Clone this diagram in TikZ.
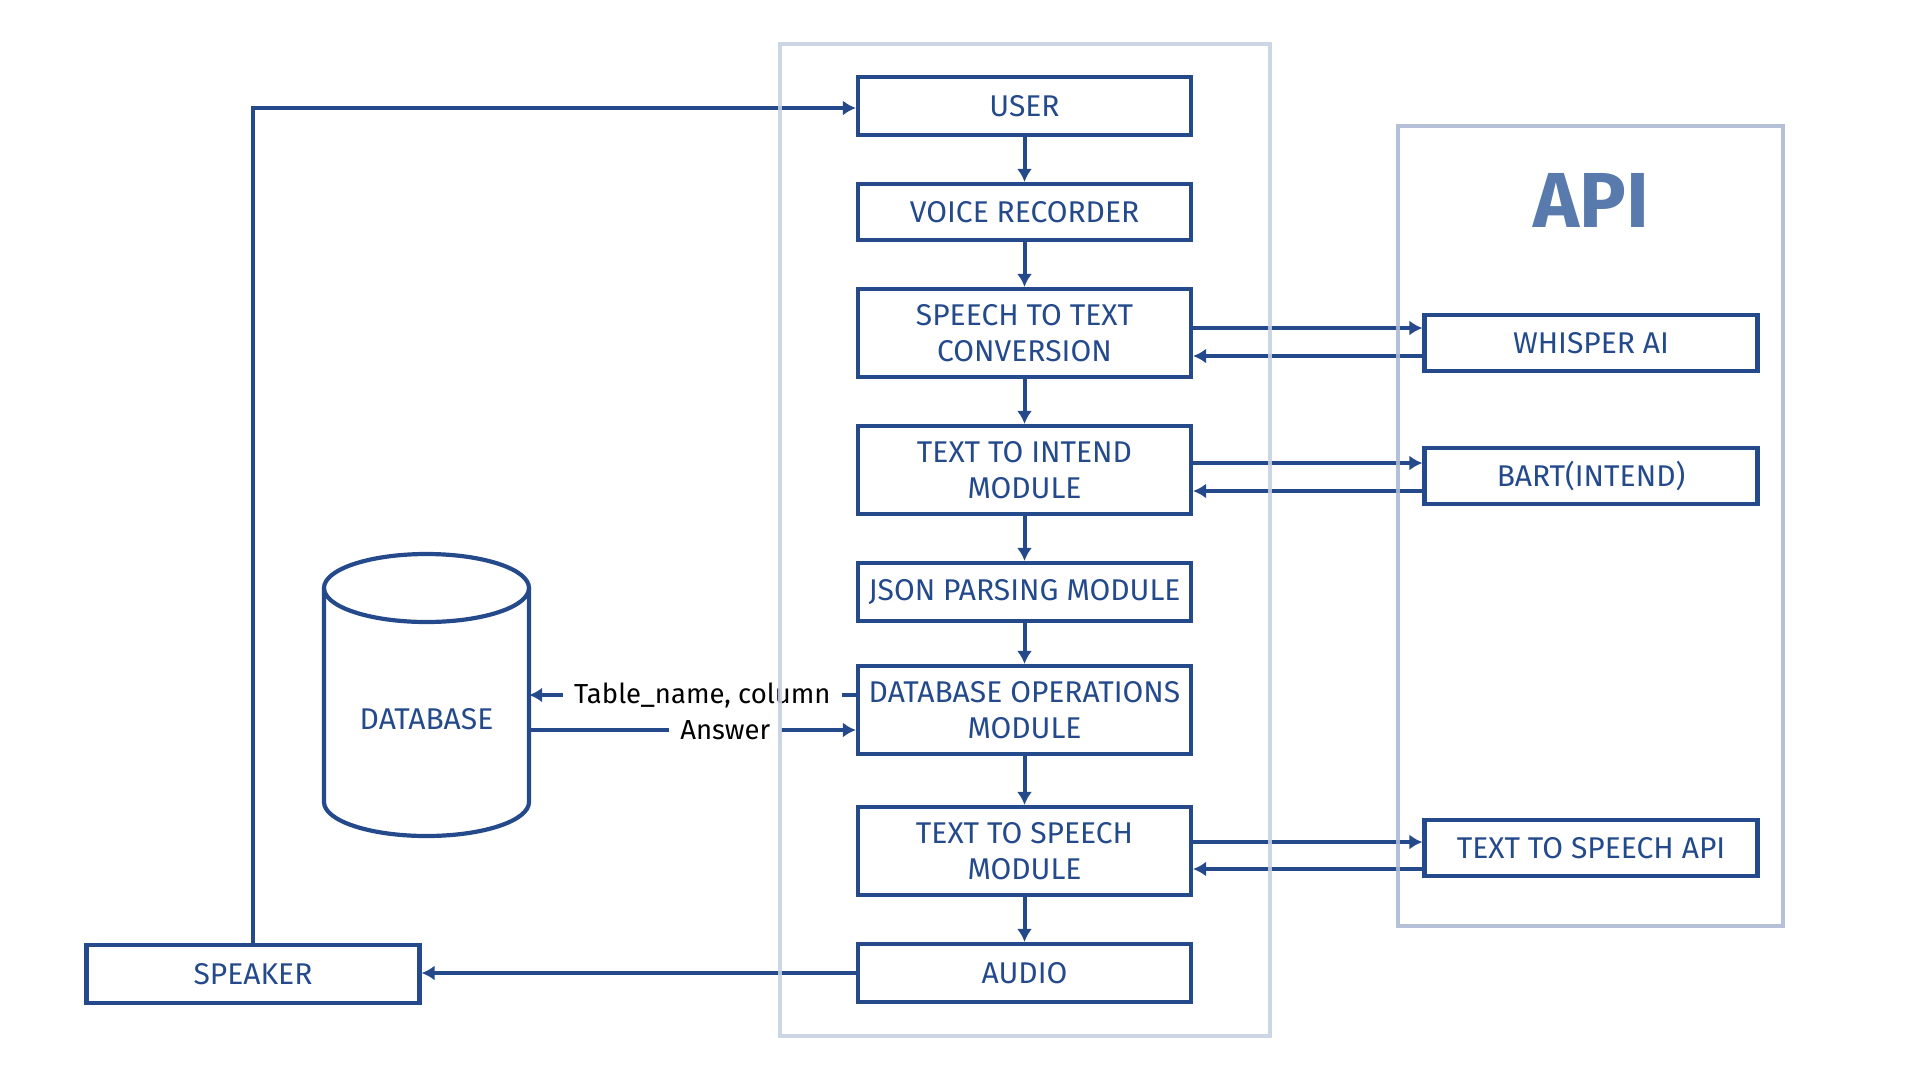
\documentclass[tikz,border=0pt]{standalone}
\usepackage{fontspec}
\setmainfont{Fira Sans}
\usetikzlibrary{arrows.meta,positioning}
\definecolor{mblue}{RGB}{36,74,140}
\definecolor{panelc}{RGB}{200,209,226}
\definecolor{apipanel}{RGB}{172,186,212}
\definecolor{apitext}{RGB}{88,122,172}
\tikzset{
  box/.style={draw=mblue, line width=4.2pt, minimum width=333pt, text=mblue, align=center,
    font=\fontsize{30}{36}\selectfont, inner sep=0pt},
  arr/.style={draw=mblue, line width=4pt, -{Latex[length=13pt,width=15pt]}},
  lbl/.style={fill=white, text=black, font=\fontsize{27.5}{32}\selectfont, inner xsep=11pt, inner ysep=6pt},
  panel/.style={line width=4pt},
}
\begin{document}
\begin{tikzpicture}[x=1pt,y=-1pt]
\useasboundingbox (0,0) rectangle (1920,1080);
\node[text=apitext, font=\fontsize{78}{88}\selectfont\bfseries] (apititle) at (1591,200) {API};
% main boxes
\node[box, minimum height=58pt] (user) at (1024.5,106) {USER};
\node[box, minimum height=56pt] (voice) at (1024.5,212) {VOICE RECORDER};
\node[box, minimum height=88pt] (stt) at (1024.5,333) {SPEECH TO TEXT\\CONVERSION};
\node[box, minimum height=88pt] (tti) at (1024.5,470) {TEXT TO INTEND\\MODULE};
\node[box, minimum height=58pt] (json) at (1024.5,592) {JSON PARSING MODULE};
\node[box, minimum height=88pt] (dbops) at (1024.5,710) {DATABASE OPERATIONS\\MODULE};
\node[box, minimum height=88pt] (tts) at (1024.5,851) {TEXT TO SPEECH\\MODULE};
\node[box, minimum height=58pt] (audio) at (1024.5,973) {AUDIO};
\node[box, minimum height=58pt] (speaker) at (253,974) {SPEAKER};
% api boxes
\node[box, minimum height=56pt] (whisper) at (1591,343) {WHISPER AI};
\node[box, minimum height=56pt] (bart) at (1591,476) {BART(INTEND)};
\node[box, minimum height=56pt] (ttsapi) at (1591,848) {TEXT TO SPEECH API};
% database cylinder
\node[minimum width=205pt, minimum height=214pt, inner sep=0pt] (db) at (426.5,695) {};
\draw[mblue, line width=4.2pt] (426.5,588) ellipse [x radius=102.5, y radius=34];
\draw[mblue, line width=4.2pt] (324,588) -- (324,802) arc[start angle=180, end angle=0, x radius=102.5, y radius=34] -- (529,588);
\node[text=mblue, font=\fontsize{30}{36}\selectfont] (dblabel) at (426.5,719) {DATABASE};
% anchor coordinates
\coordinate (w1) at ([yshift=15pt]whisper.west);
\coordinate (w2) at ([yshift=-13pt]whisper.west);
\coordinate (b1) at ([yshift=13pt]bart.west);
\coordinate (b2) at ([yshift=-15pt]bart.west);
\coordinate (t1) at ([yshift=6pt]ttsapi.west);
\coordinate (t2) at ([yshift=-21pt]ttsapi.west);
\coordinate (d1) at ([yshift=15pt]dbops.west);
\coordinate (d2) at ([yshift=-20pt]dbops.west);
\coordinate (u1) at ([yshift=-2pt]user.west);
% vertical flow
\draw[arr] (user) -- (voice);
\draw[arr] (voice) -- (stt);
\draw[arr] (stt) -- (tti);
\draw[arr] (tti) -- (json);
\draw[arr] (json) -- (dbops);
\draw[arr] (dbops) -- (tts);
\draw[arr] (tts) -- (audio);
% api links
\draw[arr] (stt.east |- w1) -- (w1);
\draw[arr] (w2) -- (stt.east |- w2);
\draw[arr] (tti.east |- b1) -- (b1);
\draw[arr] (b2) -- (tti.east |- b2);
\draw[arr] (tts.east |- t1) -- (t1);
\draw[arr] (t2) -- (tts.east |- t2);
% database links
\draw[arr] (d1) -- (db.east |- d1)
  node[lbl, pos=0.47] (lbltable) {Table\_name, column};
\draw[arr] (db.east |- d2) -- (d2)
  node[lbl, pos=0.6] (lblanswer) {Answer};
% loop back
\draw[arr] (audio.west) -- (speaker.east |- audio.west);
\draw[arr] (speaker.north) |- (u1);
% panels (drawn on top of the connectors, as in the reference)
\draw[panel, draw=panelc, opacity=0.9] (780,44) rectangle (1270,1036);
\draw[panel, draw=apipanel, opacity=0.9] (1398,126) rectangle (1783,926);
\end{tikzpicture}
\end{document}
